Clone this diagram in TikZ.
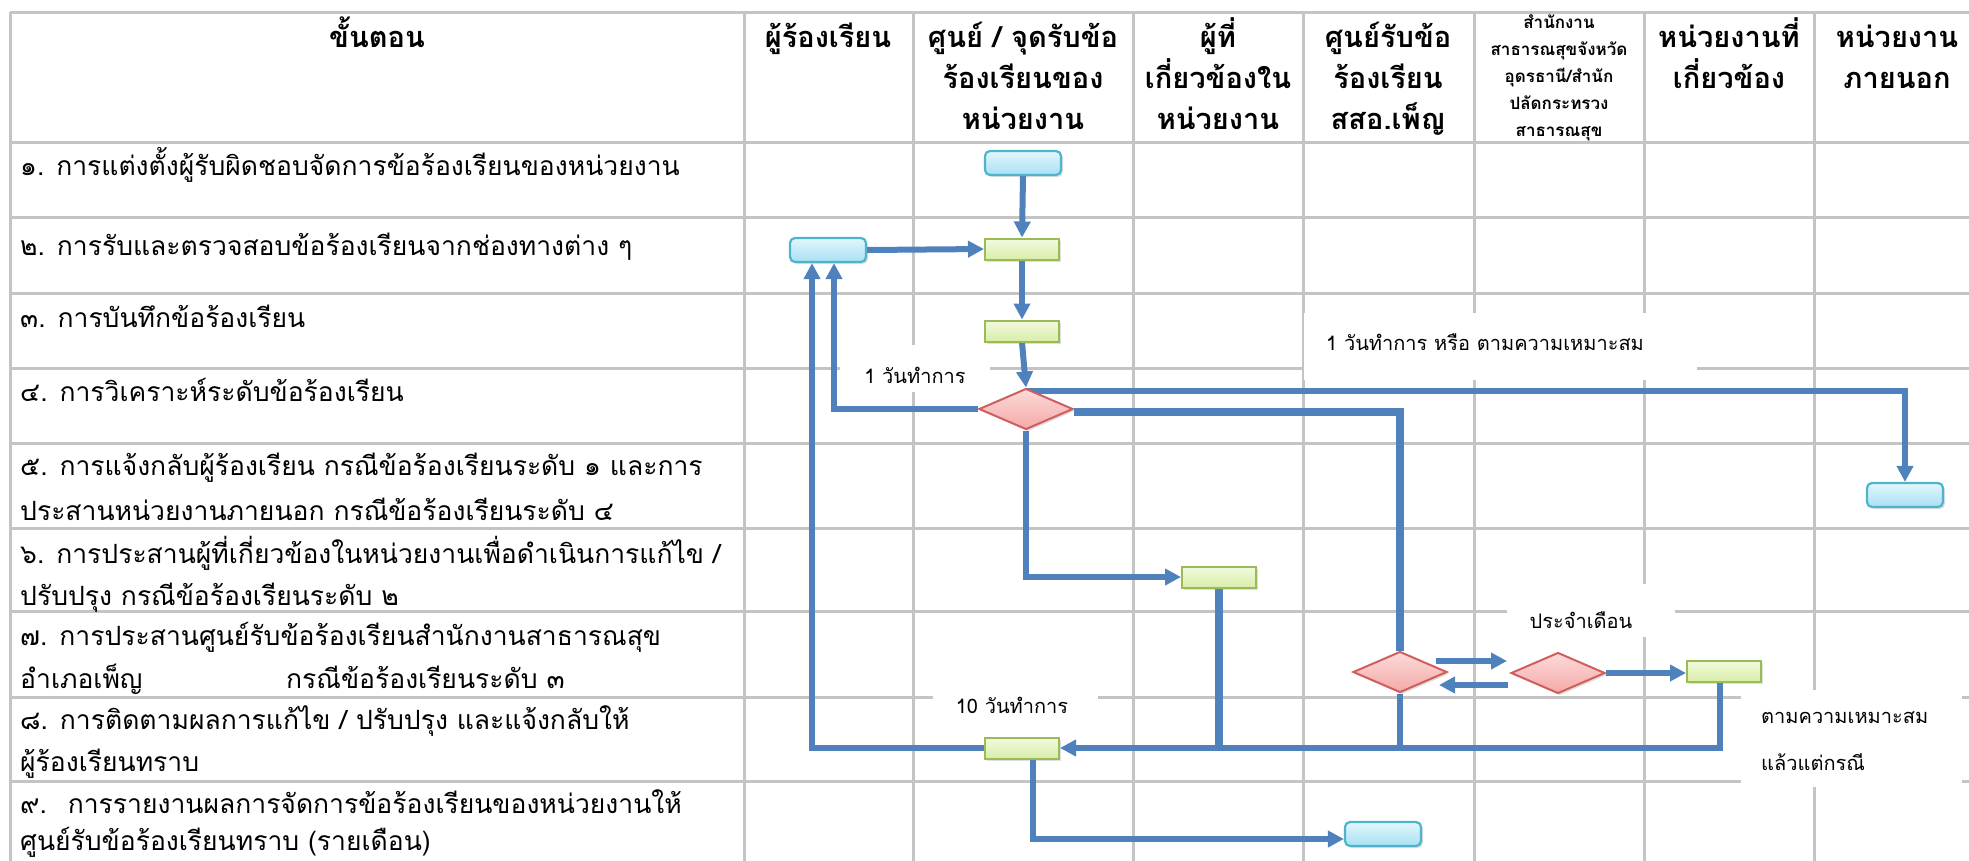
\documentclass[tikz,border=0pt]{standalone}
\usepackage{fontspec}
\setmainfont[Script=Thai]{Loma}
\usetikzlibrary{arrows.meta,shapes.geometric,shadows}
\pgfdeclarelayer{bg}
\pgfsetlayers{bg,main}
\definecolor{flowblue}{HTML}{4F81BD}
\definecolor{gridgray}{HTML}{C4C4C4}
\definecolor{bluebd}{HTML}{4FB3CC}
\definecolor{bluetop}{HTML}{E2F7FD}
\definecolor{bluebot}{HTML}{A8E0F2}
\definecolor{greenbd}{HTML}{9BBB59}
\definecolor{greentop}{HTML}{F3FADF}
\definecolor{greenbot}{HTML}{D8EDA8}
\definecolor{redbd}{HTML}{CF5F5C}
\definecolor{redtop}{HTML}{FCDADA}
\definecolor{redbot}{HTML}{F4A9A8}
\tikzset{
  gridline/.style={draw=gridgray, line width=3pt},
  flow/.style={draw=flowblue, line width=6pt, -{Triangle[length=16pt,width=16pt]}},
  flowline/.style={draw=flowblue, line width=6pt},
  thickflow/.style={draw=flowblue, line width=8.5pt},
  bluebox/.style={draw=bluebd, line width=2.2pt, rounded corners=5pt, top color=bluetop, bottom color=bluebot,
     minimum width=76pt, minimum height=24pt, inner sep=0pt, drop shadow={opacity=0.25, shadow xshift=2pt, shadow yshift=-2pt}},
  greenbox/.style={draw=greenbd, line width=2pt, top color=greentop, bottom color=greenbot,
     minimum width=74pt, minimum height=21pt, inner sep=0pt, drop shadow={opacity=0.25, shadow xshift=2pt, shadow yshift=-2pt}},
  decision/.style={diamond, draw=redbd, line width=2pt, top color=redtop, bottom color=redbot,
     minimum width=94pt, minimum height=41pt, inner sep=0pt, drop shadow={opacity=0.25, shadow xshift=2pt, shadow yshift=-2pt}},
  rowtxt/.style={anchor=base west, inner sep=0pt, font=\fontsize{26.5}{30}\selectfont},
  hdr/.style={anchor=base, inner sep=0pt, font=\bfseries\fontsize{29}{32}\selectfont},
  hdrsmall/.style={anchor=base, inner sep=0pt, font=\bfseries\fontsize{17}{20}\selectfont},
  whitebox/.style={fill=white, draw=none, inner sep=0pt},
  lbltxt/.style={inner sep=0pt, font=\fontsize{20}{24}\selectfont},
}
\begin{document}
\begin{tikzpicture}[x=1pt,y=-1pt]
\useasboundingbox (0,0) rectangle (1969,860);
\clip (0,0) rectangle (1969,860);
% ---------------- grid
\begin{pgfonlayer}{bg}
\foreach \yy in {12,142,217,293,368,443,528,611,697,781}
  \draw[gridline] (10,\yy) -- (1975,\yy);
\foreach \xx in {10,744,913,1133,1303,1474,1644,1814}
  \draw[gridline] (\xx,12) -- (\xx,870);
\end{pgfonlayer}
% ---------------- white label areas
\node[whitebox, minimum width=150pt, minimum height=47pt] (w1) at (915,368) {};
\node[whitebox, minimum width=393pt, minimum height=67pt] (w2) at (1500,346) {};
\node[whitebox, minimum width=165pt, minimum height=46pt] (w3) at (1015,704) {};
\node[whitebox, minimum width=168pt, minimum height=53pt] (w4) at (1591,610) {};
\node[whitebox, minimum width=221pt, minimum height=97pt] (w5) at (1851,738) {};
\node[lbltxt] (l1) at (915,375) {1 วันทำการ};
\node[lbltxt, anchor=west] (l2) at (1326,342) {1 วันทำการ หรือ ตามความเหมาะสม};
\node[lbltxt] (l3) at (1012,705) {10 วันทำการ};
\node[lbltxt] (l4) at (1581,620) {ประจำเดือน};
\node[lbltxt, anchor=west] (l5a) at (1761,718) {ตามความเหมาะสม};
\node[lbltxt, anchor=west] (l5b) at (1761,762) {แล้วแต่กรณี};
% ---------------- header
\node[hdr] (h1) at (377,47) {ขั้นตอน};
\node[hdr] (h2) at (828,47) {ผู้ร้องเรียน};
\node[hdr] (h3a) at (1023,47) {ศูนย์ / จุดรับข้อ};
\node[hdr] (h3b) at (1023,88) {ร้องเรียนของ};
\node[hdr] (h3c) at (1023,129) {หน่วยงาน};
\node[hdr] (h4a) at (1218,47) {ผู้ที่};
\node[hdr] (h4b) at (1218,88) {เกี่ยวข้องใน};
\node[hdr] (h4c) at (1218,129) {หน่วยงาน};
\node[hdr] (h5a) at (1388,47) {ศูนย์รับข้อ};
\node[hdr] (h5b) at (1388,88) {ร้องเรียน};
\node[hdr] (h5c) at (1388,129) {สสอ.เพ็ญ};
\node[hdrsmall] (h6a) at (1559,28) {สำนักงาน};
\node[hdrsmall] (h6b) at (1559,55) {สาธารณสุขจังหวัด};
\node[hdrsmall] (h6c) at (1559,82) {อุดรธานี/สำนัก};
\node[hdrsmall] (h6d) at (1559,109) {ปลัดกระทรวง};
\node[hdrsmall] (h6e) at (1559,136) {สาธารณสุข};
\node[hdr] (h7a) at (1729,47) {หน่วยงานที่};
\node[hdr] (h7b) at (1729,88) {เกี่ยวข้อง};
\node[hdr] (h8a) at (1897,47) {หน่วยงาน};
\node[hdr] (h8b) at (1897,88) {ภายนอก};
% ---------------- step texts
\node[rowtxt] (r1) at (20,175) {๑. การแต่งตั้งผู้รับผิดชอบจัดการข้อร้องเรียนของหน่วยงาน};
\node[rowtxt] (r2) at (20,255) {๒. การรับและตรวจสอบข้อร้องเรียนจากช่องทางต่าง ๆ};
\node[rowtxt] (r3) at (20,327) {๓. การบันทึกข้อร้องเรียน};
\node[rowtxt] (r4) at (20,401) {๔. การวิเคราะห์ระดับข้อร้องเรียน};
\node[rowtxt] (r5a) at (20,475) {๕. การแจ้งกลับผู้ร้องเรียน กรณีข้อร้องเรียนระดับ ๑ และการ};
\node[rowtxt] (r5b) at (20,520) {ประสานหน่วยงานภายนอก กรณีข้อร้องเรียนระดับ ๔};
\node[rowtxt] (r6a) at (20,563) {๖. การประสานผู้ที่เกี่ยวข้องในหน่วยงานเพื่อดำเนินการแก้ไข /};
\node[rowtxt] (r6b) at (20,605) {ปรับปรุง กรณีข้อร้องเรียนระดับ ๒};
\node[rowtxt] (r7a) at (20,645) {๗. การประสานศูนย์รับข้อร้องเรียนสำนักงานสาธารณสุข};
\node[rowtxt] (r7b) at (20,688) {อำเภอเพ็ญ};
\node[rowtxt] (r7c) at (286,688) {กรณีข้อร้องเรียนระดับ ๓};
\node[rowtxt] (r8a) at (20,729) {๘. การติดตามผลการแก้ไข / ปรับปรุง และแจ้งกลับให้};
\node[rowtxt] (r8b) at (20,771) {ผู้ร้องเรียนทราบ};
\node[rowtxt] (r9a) at (20,813) {๙.~ การรายงานผลการจัดการข้อร้องเรียนของหน่วยงานให้};
\node[rowtxt] (r9b) at (20,850) {ศูนย์รับข้อร้องเรียนทราบ (รายเดือน)};
% ---------------- flow shapes
\node[bluebox] (b1) at (1023,163) {};
\node[greenbox] (g2) at (1022,249) {};
\node[bluebox] (bc) at (828,250) {};
\node[greenbox] (g3) at (1022,331) {};
\node[decision] (d4) at (1026,409) {};
\node[bluebox] (bx) at (1905,495) {};
\node[greenbox] (g6) at (1219,577) {};
\node[decision] (d7a) at (1400,672) {};
\node[decision] (d7b) at (1558,673) {};
\node[greenbox] (g7) at (1724,671) {};
\node[greenbox] (g8) at (1022,748) {};
\node[bluebox] (b9) at (1383,834) {};
% ---------------- connectors
\begin{pgfonlayer}{bg}
\draw[flow] (b1.south) -- (g2.north);
\draw[flow] (bc.east) -- (g2.west);
\draw[flow] (g2.south) -- (g3.north);
\draw[flow] (g3.south) -- (d4.north);
\draw[flow] (d4.west) -| ([xshift=6pt]bc.south);
\draw[flow] ([yshift=-3pt]d4.north) -| (bx.north);
\draw[thickflow] ([yshift=-3pt]d4.east) -| (d7a.north);
\draw[flow] (d4.south) |- (g6.west);
\draw[flow] ([xshift=-12pt,yshift=11pt]d7a.east) -- ([xshift=-3pt,yshift=12pt]d7b.west);
\draw[flow] ([xshift=-2pt,yshift=-12pt]d7b.west) -- ([xshift=-9pt,yshift=-13pt]d7a.east);
\draw[flow] (d7b.east) -- (d7b.east -| g7.west);
\draw[flow] ([xshift=-4pt]g7.south) |- (g8.east);
\draw[thickflow] (g6.south) -- (g6.south |- g8.east);
\draw[flowline] (d7a.south) -- (d7a.south |- g8.east);
\draw[flow] (g8.west) -| ([xshift=-16pt]bc.south);
\draw[flow] ([xshift=11pt]g8.south) |- ([yshift=-5pt]b9.west);
\end{pgfonlayer}
\end{tikzpicture}
\end{document}
